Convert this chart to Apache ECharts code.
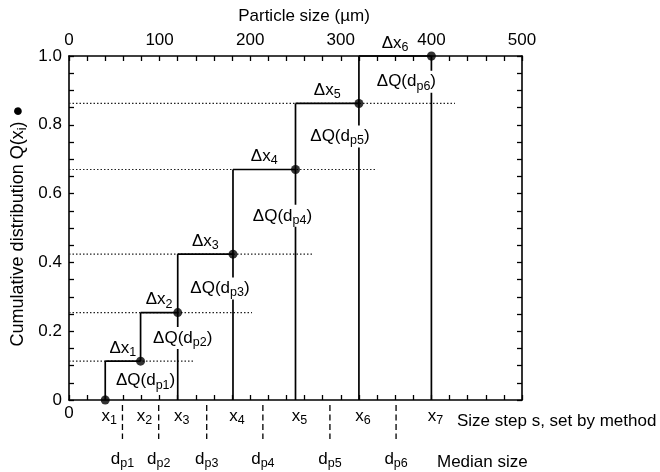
<!DOCTYPE html>
<html><head><meta charset="utf-8">
<script src="https://cdn.jsdelivr.net/npm/echarts/dist/echarts.min.js"></script>
<style>html,body{margin:0;padding:0;background:#fff}#c{width:660px;height:472px}</style>
</head><body><div id="c"></div>
<script>
// ---- data ----
// Step boundaries x1..x7 (particle size, µm)
const stepSizes = [40, 79, 120, 181, 250, 320, 400];
const stepNames = ['1', '2', '3', '4', '5', '6', '7'];
// Cumulative distribution Q(xi) at each boundary
const cumQ = [0, 0.113, 0.254, 0.424, 0.67, 0.862, 1.0];
// Median sizes dp1..dp6 (µm)
const medianSizes = [59, 99, 152, 214, 288, 361];
const medianNames = ['p1', 'p2', 'p3', 'p4', 'p5', 'p6'];
// Right end (µm) of dotted guide lines at Q(x2)..Q(x6)
const dottedEnds = [139, 202, 269, 340, 426];
// Axis tick labels
const topTickLabels = [0, 100, 200, 300, 400, 500];
const leftTickLabels = [0, 0.2, 0.4, 0.6, 0.8, 1.0];

// ---- drawing ----
const FF = '"Liberation Sans", Arial, Helvetica, sans-serif';
const INK = '#000';
const FS = 17;
const SUB = { fontSize: 12.5, lineHeight: 11, verticalAlign: 'bottom', fontFamily: FF, color: INK, opacity: 1 };
const RICH = { s: SUB };
const riserFromAxis = [true, false, true, true, true, true, true];
const dqOffsets = [[5, 0], [5, 1], [-13, 5], [-13, 4], [-19, 0], [-25, 2]];

const solidSegs = [];
for (let i = 0; i < stepSizes.length; i++) {
  const top = cumQ[Math.min(i + 1, cumQ.length - 1)];
  const base = riserFromAxis[i] ? 0 : cumQ[i];
  solidSegs.push([stepSizes[i], base, stepSizes[i], top]);
}
for (let i = 0; i < stepSizes.length - 1; i++) {
  solidSegs.push([stepSizes[i], cumQ[i + 1], stepSizes[i + 1], cumQ[i + 1]]);
}
const dottedSegs = dottedEnds.map((e, i) => [0, cumQ[i + 1], e, cumQ[i + 1]]);

function segSeries(data, style, z) {
  return {
    type: 'custom', coordinateSystem: 'cartesian2d', xAxisIndex: 0, yAxisIndex: 0,
    z: z, clip: false, silent: true,
    data: data,
    renderItem: (params, api) => {
      const a = api.coord([api.value(0), api.value(1)]);
      const b = api.coord([api.value(2), api.value(3)]);
      return { type: 'line', shape: { x1: a[0], y1: a[1], x2: b[0], y2: b[1] }, style: style };
    }
  };
}

const baseLabel = { show: true, fontSize: FS, lineHeight: 22, fontFamily: FF, color: INK, opacity: 1, rich: RICH };
function labelSeries(items, z) {
  return {
    type: 'scatter', xAxisIndex: 0, yAxisIndex: 0, z: z, clip: false, silent: true,
    symbol: 'circle', symbolSize: 0.1, itemStyle: { color: '#fff', opacity: 1 },
    data: items
  };
}

// Δx labels above each tread
const dxItems = [];
for (let i = 0; i < stepSizes.length - 1; i++) {
  dxItems.push({
    value: [(stepSizes[i] + stepSizes[i + 1]) / 2, cumQ[i + 1]],
    label: Object.assign({}, baseLabel, { position: 'top', distance: 2, formatter: 'Δx{s|' + stepNames[i] + '}' })
  });
}
// ΔQ labels on the risers
const dqItems = [];
for (let i = 0; i < stepSizes.length - 1; i++) {
  dqItems.push({
    value: [stepSizes[i + 1], (cumQ[i] + cumQ[i + 1]) / 2],
    label: Object.assign({}, baseLabel, {
      position: 'inside', offset: dqOffsets[i], backgroundColor: '#fff', padding: [0, 1],
      formatter: 'ΔQ(d{s|' + medianNames[i] + '})'
    })
  });
}
// x labels under the axis
const xItems = stepSizes.map((s, i) => ({
  value: [s, 0],
  label: Object.assign({}, baseLabel, { position: 'bottom', distance: 5, offset: [4, 0], formatter: 'x{s|' + stepNames[i] + '}' })
}));
// dp labels
const dpItems = medianSizes.map((s, i) => ({
  value: [s, 0],
  label: Object.assign({}, baseLabel, { position: 'bottom', distance: 48, formatter: 'd{s|' + medianNames[i] + '}' })
}));

const dashSeries = {
  type: 'custom', coordinateSystem: 'cartesian2d', xAxisIndex: 0, yAxisIndex: 0,
  z: 5, clip: false, silent: true,
  data: medianSizes.map(s => [s, 0]),
  renderItem: (params, api) => {
    const p = api.coord([api.value(0), api.value(1)]);
    return { type: 'line', shape: { x1: p[0], y1: p[1] + 5, x2: p[0], y2: p[1] + 39 },
      style: { stroke: INK, lineWidth: 1.3, lineDash: [6, 3.5] } };
  }
};

const axisCommon = {
  type: 'value', splitLine: { show: false },
  axisLine: { onZero: false, lineStyle: { color: INK, width: 1.6 } },
  axisTick: { inside: true, length: 5, lineStyle: { color: INK, width: 1.3 } }
};
const labelFont = { fontSize: FS, fontFamily: FF, color: INK };

const option = {
  animation: false,
  backgroundColor: '#fff',
  grid: { left: 69, top: 56, width: 453, height: 344 },
  xAxis: [
    Object.assign({}, axisCommon, { position: 'bottom', min: 0, max: 500, interval: 20,
      axisLabel: Object.assign({ margin: 5, formatter: v => (v === 0 ? '0' : '') }, labelFont) }),
    Object.assign({}, axisCommon, { position: 'top', min: 0, max: 500, interval: 20,
      axisLabel: Object.assign({ margin: 7, formatter: v => (topTickLabels.indexOf(v) >= 0 ? String(v) : '') }, labelFont) })
  ],
  yAxis: [
    Object.assign({}, axisCommon, { position: 'left', min: 0, max: 1, interval: 0.05,
      axisLabel: Object.assign({ margin: 7, formatter: v => {
        const hit = leftTickLabels.find(t => Math.abs(t - v) < 1e-6);
        if (hit === undefined) return '';
        return hit === 0 ? '0' : hit.toFixed(1);
      } }, labelFont) }),
    Object.assign({}, axisCommon, { position: 'right', min: 0, max: 1, interval: 0.05, axisLabel: { show: false } })
  ],
  graphic: [
    { type: 'text', x: 304, y: 16, style: { text: 'Particle size (µm)', font: FS + 'px ' + FF, fill: INK, align: 'center', verticalAlign: 'middle' } },
    { type: 'text', x: 18, y: 226, rotation: Math.PI / 2,
      style: { text: 'Cumulative distribution Q(x{s|i}) ●', font: '18px ' + FF, fontSize: 18, fontFamily: FF, lineHeight: 22, fill: INK, align: 'center', verticalAlign: 'middle',
        rich: { s: { fontSize: 13, lineHeight: 11, verticalAlign: 'bottom', fontFamily: FF, fill: INK } } } },
    { type: 'text', x: 457, y: 421, style: { text: 'Size step s, set by method', font: FS + 'px ' + FF, fill: INK, align: 'left', verticalAlign: 'middle' } },
    { type: 'text', x: 437, y: 462, style: { text: 'Median size', font: FS + 'px ' + FF, fill: INK, align: 'left', verticalAlign: 'middle' } }
  ],
  series: [
    segSeries(dottedSegs, { stroke: '#222', lineWidth: 1.2, lineDash: [1.5, 2] }, 2),
    segSeries(solidSegs, { stroke: INK, lineWidth: 1.7 }, 3),
    dashSeries,
    labelSeries(dqItems, 6),
    labelSeries(dxItems, 6),
    labelSeries(xItems, 6),
    labelSeries(dpItems, 6),
    {
      type: 'scatter', xAxisIndex: 0, yAxisIndex: 0, z: 8, clip: false, silent: true,
      symbol: 'circle', symbolSize: 9, itemStyle: { color: INK },
      data: stepSizes.map((s, i) => [s, cumQ[i]])
    }
  ]
};
const chart = echarts.init(document.getElementById('c'), null, { renderer: 'canvas' });
chart.setOption(option);
</script>
</body></html>
